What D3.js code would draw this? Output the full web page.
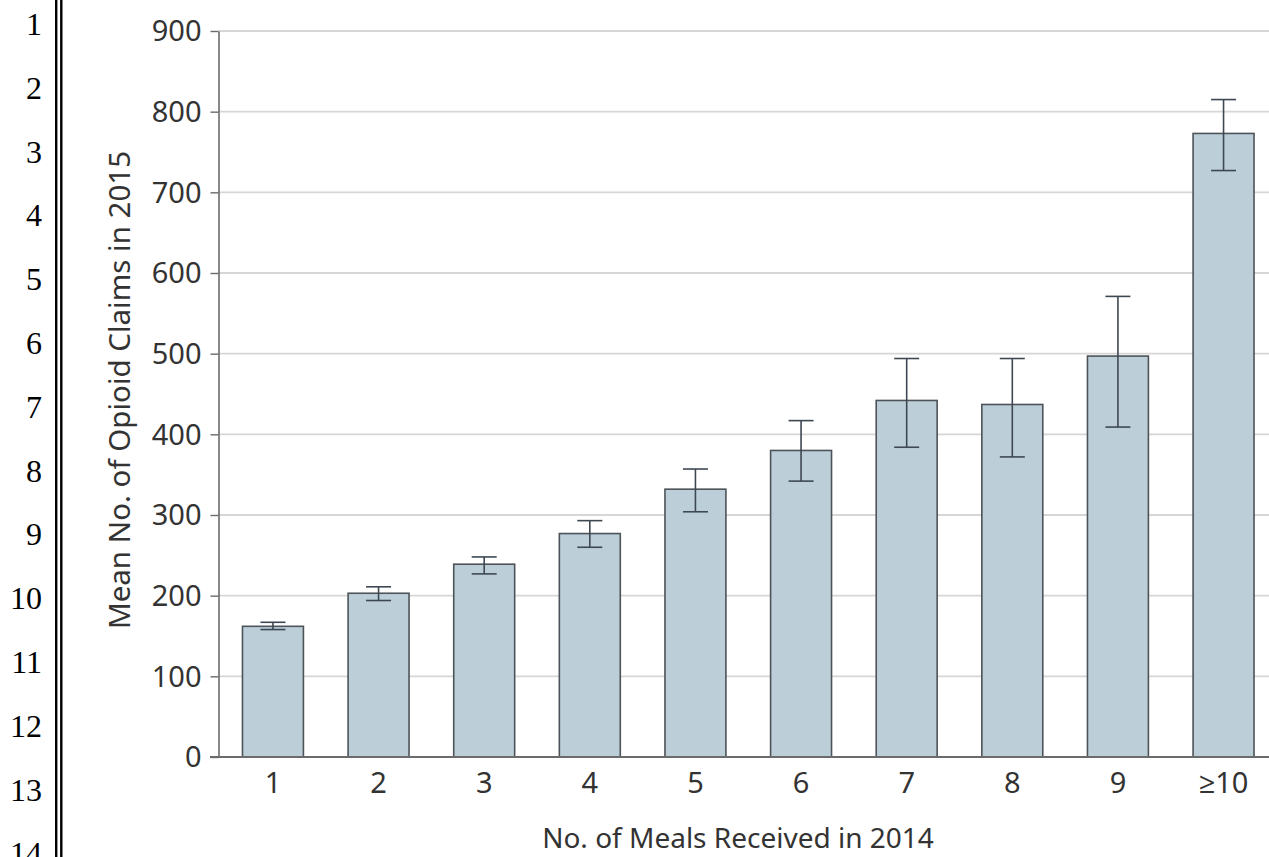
<!DOCTYPE html>
<html>
<head>
<meta charset="utf-8">
<script src="https://cdn.jsdelivr.net/npm/d3@7"></script>
<style>
  html, body { margin: 0; padding: 0; background: #fff; }
  svg { display: block; }
</style>
</head>
<body>
<svg id="chart" width="1269" height="857"></svg>
<script>
// Meals received in 2014 vs. mean opioid claims in 2015
const categories = ["1", "2", "3", "4", "5", "6", "7", "8", "9", "≥10"];
const meanClaims = [162, 203, 239, 277, 332, 380, 442, 437, 497, 773];
const ciLower    = [158, 194, 227, 260, 304, 342, 384, 372, 409, 727];
const ciUpper    = [167, 211, 248, 293, 357, 417, 494, 494, 571, 815];
const yTicks     = [0, 100, 200, 300, 400, 500, 600, 700, 800, 900];
const lineNumbers = d3.range(1, 15);

const svg = d3.select("#chart");
const W = 1269, H = 857;

const axisX = 218.5, plotTop = 31, plotBottom = 757;
const sans = "'Noto Sans', 'Open Sans', sans-serif";

// Manuscript line numbers with double rule
const gutter = svg.append("g");
gutter.selectAll("text").data(lineNumbers).join("text")
  .attr("x", 42)
  .attr("y", (d, i) => 35 + i * 63.8)
  .attr("text-anchor", "end")
  .attr("font-family", "'Liberation Serif', 'DejaVu Serif', serif")
  .attr("font-size", 32)
  .attr("fill", "#000")
  .text(d => d);
[56.2, 61.3].forEach(x => {
  gutter.append("line")
    .attr("x1", x).attr("x2", x).attr("y1", 0).attr("y2", H)
    .attr("stroke", "#000").attr("stroke-width", 2.4);
});

const x = d3.scaleBand()
  .domain(categories)
  .range([axisX, 1278])
  .paddingInner(0.423)
  .paddingOuter(0.227);

const y = d3.scaleLinear()
  .domain([0, 900])
  .range([plotBottom, plotTop]);

// Horizontal gridlines
svg.append("g")
  .selectAll("line").data(yTicks.filter(t => t > 0)).join("line")
  .attr("x1", axisX).attr("x2", W)
  .attr("y1", d => y(d)).attr("y2", d => y(d))
  .attr("stroke", "#d6d6d6").attr("stroke-width", 1.8);

// Y axis
const yAxis = svg.append("g")
  .attr("transform", `translate(${axisX},0)`)
  .call(d3.axisLeft(y).tickValues(yTicks).tickSize(8).tickPadding(9).tickSizeOuter(0));
yAxis.select(".domain").attr("stroke", "#6b6b6b").attr("stroke-width", 1.6);
yAxis.selectAll(".tick line").attr("stroke", "#6b6b6b").attr("stroke-width", 1.4);
yAxis.selectAll(".tick text")
  .attr("font-family", sans).attr("font-size", 29).attr("fill", "#333")
  .attr("dy", "0.34em");

// Bars
const data = categories.map((c, i) => ({ c, v: meanClaims[i], lo: ciLower[i], hi: ciUpper[i] }));
svg.append("g")
  .selectAll("rect").data(data).join("rect")
  .attr("x", d => x(d.c))
  .attr("y", d => y(d.v))
  .attr("width", x.bandwidth())
  .attr("height", d => y(0) - y(d.v))
  .attr("fill", "#bccfd9")
  .attr("stroke", "#4d5358")
  .attr("stroke-width", 1.6);

// Error bars
const capW = 25;
const err = svg.append("g").attr("stroke", "#3d4852").attr("stroke-width", 1.6);
data.forEach(d => {
  const cx = x(d.c) + x.bandwidth() / 2;
  err.append("line").attr("x1", cx).attr("x2", cx).attr("y1", y(d.hi)).attr("y2", y(d.lo));
  err.append("line").attr("x1", cx - capW / 2).attr("x2", cx + capW / 2).attr("y1", y(d.hi)).attr("y2", y(d.hi));
  err.append("line").attr("x1", cx - capW / 2).attr("x2", cx + capW / 2).attr("y1", y(d.lo)).attr("y2", y(d.lo));
});

// X axis baseline and category labels
svg.append("line")
  .attr("x1", 210).attr("x2", W)
  .attr("y1", y(0)).attr("y2", y(0))
  .attr("stroke", "#6b6b6b").attr("stroke-width", 1.8);

const xAxis = svg.append("g")
  .attr("transform", `translate(0,${y(0)})`)
  .call(d3.axisBottom(x).tickSize(0).tickPadding(15));
xAxis.select(".domain").remove();
xAxis.selectAll(".tick text")
  .attr("font-family", sans).attr("font-size", 29).attr("fill", "#333");

// Axis titles
svg.append("text")
  .attr("x", 738).attr("y", 848)
  .attr("text-anchor", "middle")
  .attr("font-family", sans).attr("font-size", 28).attr("fill", "#333")
  .text("No. of Meals Received in 2014");

svg.append("text")
  .attr("transform", `translate(130,390) rotate(-90)`)
  .attr("text-anchor", "middle")
  .attr("font-family", sans).attr("font-size", 29.5).attr("fill", "#333")
  .text("Mean No. of Opioid Claims in 2015");
</script>
</body>
</html>
